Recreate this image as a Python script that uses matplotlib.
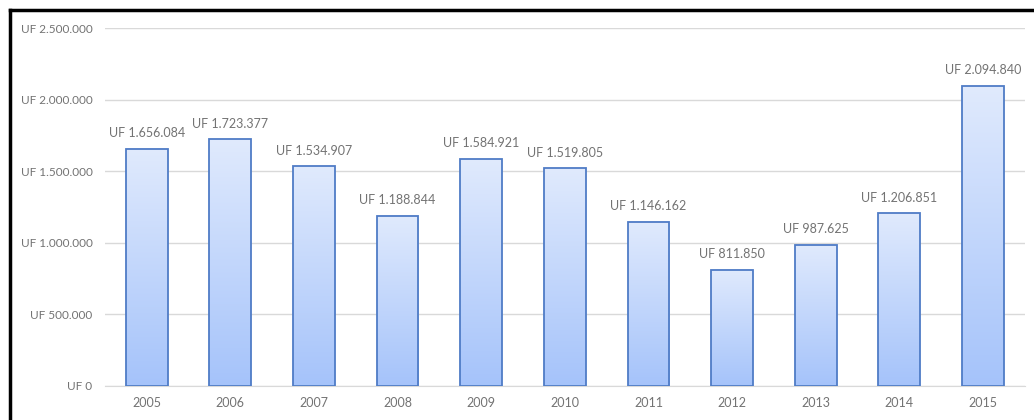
import numpy as np
import matplotlib
matplotlib.use("Agg")
import matplotlib.pyplot as plt
from matplotlib.colors import LinearSegmentedColormap
from matplotlib.lines import Line2D

# Montos anuales en UF
years = ["2005", "2006", "2007", "2008", "2009", "2010",
         "2011", "2012", "2013", "2014", "2015"]
amounts = [1656084, 1723377, 1534907, 1188844, 1584921, 1519805,
           1146162, 811850, 987625, 1206851, 2094840]
yticks = [0, 500000, 1000000, 1500000, 2000000, 2500000]


def uf(v):
    return "UF " + "{:,}".format(int(v)).replace(",", ".")


plt.rcParams['font.family'] = ['Lato', 'DejaVu Sans']
txt = "#737373"

fig = plt.figure(figsize=(10.34, 4.2), dpi=100)
ax = fig.add_axes([0.1015, 0.081, 0.8895, 0.852])

cmap = LinearSegmentedColormap.from_list("grad", ["#a5c3fa", "#e0eafd"])
grad = np.linspace(0, 1, 256).reshape(-1, 1)

x = np.arange(len(years))
w = 0.5
for xi, v in zip(x, amounts):
    ax.imshow(grad, cmap=cmap, origin="lower", aspect="auto",
              extent=(xi - w / 2, xi + w / 2, 0, v), zorder=2)
    ax.bar(xi, v, width=w, facecolor="none", edgecolor="#4f7cc6",
           linewidth=1.3, zorder=3)
    ax.annotate(uf(v), (xi, v), xytext=(0, 7), textcoords="offset points",
                ha="center", va="bottom", fontsize=9, color=txt)

ax.set_xlim(-0.5, len(years) - 0.5)
ax.set_ylim(0, 2500000)
ax.set_yticks(yticks)
ax.set_yticklabels([uf(t) for t in yticks])
ax.set_xticks(x)
ax.set_xticklabels(years)
ax.tick_params(length=0, colors=txt)
ax.tick_params(axis="y", pad=9, labelsize=8.5)
ax.tick_params(axis="x", pad=8, labelsize=9)
ax.grid(axis="y", color="#d9d9d9", linewidth=1)
ax.set_axisbelow(True)
for s in ["top", "right", "left"]:
    ax.spines[s].set_visible(False)
ax.spines["bottom"].set_color("#d9d9d9")

# marco negro superior e izquierdo
fig.add_artist(Line2D([0.0097, 1], [0.976, 0.976], color="black", lw=2.5))
fig.add_artist(Line2D([0.0097, 0.0097], [0, 0.976], color="black", lw=2.5))

fig.savefig("out.png", dpi=100)
